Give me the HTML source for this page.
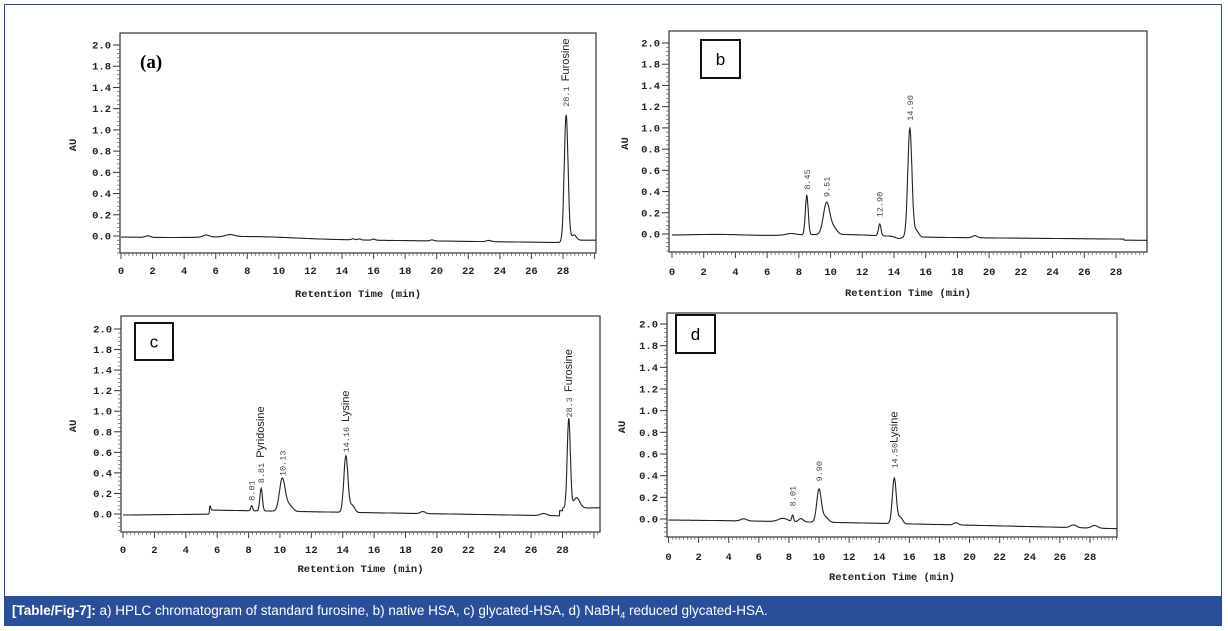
<!DOCTYPE html>
<html><head><meta charset="utf-8"><style>
body{margin:0;background:#fff;width:1228px;height:628px;overflow:hidden;font-family:"Liberation Sans",sans-serif}
#frame{position:absolute;left:4px;top:4px;width:1218px;height:620px;border:1.5px solid #2a4d8f;border-bottom:none;box-sizing:border-box}
#cap{position:absolute;left:4px;top:596px;width:1218px;height:30px;background:#2a4f98;color:#fff;font-size:13.5px;line-height:30px;padding-left:8px;box-sizing:border-box}
svg{position:absolute;left:0;top:0}
.t{font-family:"Liberation Mono",monospace;font-weight:bold;font-size:10.5px;fill:#222}
.pk{font-family:"Liberation Mono",monospace;font-size:8.5px;fill:#444}
.nm{font-family:"Liberation Sans",sans-serif;font-size:11px;fill:#222}
</style></head><body>
<div id="frame"></div>
<svg id="s" width="1228" height="628" xmlns="http://www.w3.org/2000/svg"></svg>
<div id="cap"><b>[Table/Fig-7]:</b> a) HPLC chromatogram of standard furosine, b) native HSA, c) glycated-HSA, d) NaBH<sub style="font-size:9px">4</sub> reduced glycated-HSA.</div>
<script>
const S=document.getElementById('s');let h='';
function g(t,a,w){return Math.exp(-((t-a)*(t-a))/(2*w*w));}
function panel(c){
 const {L,R,T,B,x0,x28,y0,y2}=c;const ppm=(x28-x0)/28;const step=(y0-y2)/9;const ppu=step*5;
 h+=`<rect x="${L}" y="${T}" width="${R-L}" height="${B-T}" fill="none" stroke="#333" stroke-width="1.2"/>`;
 const labs=['2.0','1.8','1.4','1.2','1.0','0.8','0.6','0.4','0.2','0.0'];
 labs.forEach((s,i)=>{const y=y2+i*step;h+=`<line x1="${L-7}" y1="${y}" x2="${L}" y2="${y}" stroke="#333"/><text class="t" x="${L-9}" y="${y+3.5}" text-anchor="end">${s}</text>`;
  for(let k=1;k<5;k++){const yy=y+k*step/5;if(yy<B)h+=`<line x1="${L-3}" y1="${yy}" x2="${L}" y2="${yy}" stroke="#555" stroke-width=".7"/>`;}});
 for(let t=0;x0+t*ppm<=R+0.1;t+=0.25){const x=x0+t*ppm;const maj=Math.abs(t%2)<1e-6;
  h+=`<line x1="${x}" y1="${B}" x2="${x}" y2="${B+(maj?6:3)}" stroke="#444" stroke-width="${maj?1:.6}"/>`;
  if(maj&&t<=28)h+=`<text class="t" x="${x}" y="${c.ly}" text-anchor="middle">${t}</text>`;}
 h+=`<text class="t" x="${(L+R)/2}" y="${c.ty}" text-anchor="middle">Retention Time (min)</text>`;
 h+=`<text class="t" transform="translate(${c.aux},${(T+B)/2+2}) rotate(-90)" text-anchor="middle">AU</text>`;
 let d='';const tend=(R-x0)/ppm;
 for(let t=0;t<=tend;t+=0.02){let v=c.base(t);c.peaks.forEach(p=>{v+=p[1]*g(t,p[0],p[2]);});
  d+=(d?'L':'M')+(x0+t*ppm).toFixed(1)+','+(y0-v*ppu).toFixed(1);}
 h+=`<path d="${d}" fill="none" stroke="#222" stroke-width="1.1"/>`;
 c.labels.forEach(l=>{const x=x0+l[0]*ppm+3,y=y0-l[1]*ppu-4;
  h+=`<text transform="translate(${x},${y}) rotate(-90)"><tspan class="pk">${l[2]}</tspan><tspan class="nm">${l[3]||''}</tspan></text>`;});
 if(c.box){const b=c.box;h+=`<rect x="${b[0]}" y="${b[1]}" width="${b[2]}" height="${b[3]}" fill="#fff" stroke="#111" stroke-width="2"/><text x="${b[0]+b[2]/2}" y="${b[1]+b[3]/2+6}" text-anchor="middle" style="font-size:17px;font-family:'Liberation Sans',sans-serif">${c.letter}</text>`;}
}
panel({L:120,R:596,T:33,B:253,x0:121,x28:563,y0:236,y2:45,ly:274,ty:297,aux:76,
 base:t=>-0.01-0.05*Math.min(t,27)/27+0.02*g(t,8.5,2.5)+(t>28?0.02:0),
 peaks:[[1.7,0.015,0.15],[5.4,0.02,0.2],[6.9,0.02,0.3],[14.7,0.01,0.1],[15.1,0.01,0.1],[16,0.01,0.1],[19.7,0.01,0.12],[23.3,0.012,0.15],[28.2,1.18,0.12],[28.7,0.05,0.15]],
 labels:[[28.2,1.18,'28.1 ','Furosine']]});
h+=`<text x="140" y="68" style="font-family:'Liberation Serif',serif;font-weight:bold;font-size:19px">(a)</text>`;
panel({L:669,R:1147,T:31,B:252,x0:672,x28:1116,y0:234,y2:43,ly:275,ty:296,aux:628,box:[701,40,39,38],letter:'b',
 base:t=>-0.01-0.04*t/30+0.01*g(t,3,1.5)+0.02*g(t,10.5,2.5)-(t>28.5?0.01:0),
 peaks:[[7.5,0.015,0.3],[8.5,0.37,0.09],[9.75,0.3,0.2],[10.2,0.06,0.2],[13.1,0.11,0.08],[14.3,-0.02,0.2],[15.0,1.02,0.13],[15.4,0.06,0.15],[19.1,0.02,0.15]],
 labels:[[8.5,0.38,'8.45'],[9.75,0.31,'9.51'],[13.1,0.12,'12.90'],[15.0,1.03,'14.90']]});
panel({L:121,R:600,T:316,B:532,x0:123,x28:562.5,y0:514,y2:329,ly:553,ty:572,aux:76,box:[135,323,38,37],letter:'c',
 base:t=>-0.01+0.0015*t+(t>5.5&&t<27.8?0.04-0.004*(t-5.5):0)+(t>28?0.025:0),
 peaks:[[5.55,0.04,0.04],[8.2,0.05,0.06],[8.8,0.22,0.08],[10.15,0.32,0.18],[10.6,0.06,0.2],[14.2,0.55,0.13],[14.6,0.07,0.15],[19.1,0.02,0.15],[26.8,0.02,0.2],[28.4,0.87,0.1],[28.9,0.1,0.2]],
 labels:[[8.2,0.09,'8.01'],[8.8,0.26,'8.81 ','Pyridosine'],[10.15,0.33,'10.13'],[14.2,0.56,'14.16 ','Lysine'],[28.4,0.9,'28.3 ','Furosine']]});
panel({L:667,R:1117,T:313,B:537,x0:668.5,x28:1090,y0:519,y2:324,ly:560,ty:580,aux:625,box:[676,315,39,38],letter:'d',
 base:t=>-0.01-0.08*Math.pow(t/30,1.3),
 peaks:[[5,0.02,0.2],[7.6,0.03,0.3],[8.25,0.06,0.06],[8.8,0.03,0.15],[10.0,0.3,0.15],[10.4,0.05,0.2],[15.0,0.42,0.13],[15.4,0.06,0.15],[19.1,0.02,0.15],[26.9,0.025,0.2],[28.3,0.025,0.2]],
 labels:[[8.25,0.08,'8.01'],[10.0,0.31,'9.90'],[15.0,0.43,'14.50','Lysine']]});
S.innerHTML=h;
</script>
</body></html>
